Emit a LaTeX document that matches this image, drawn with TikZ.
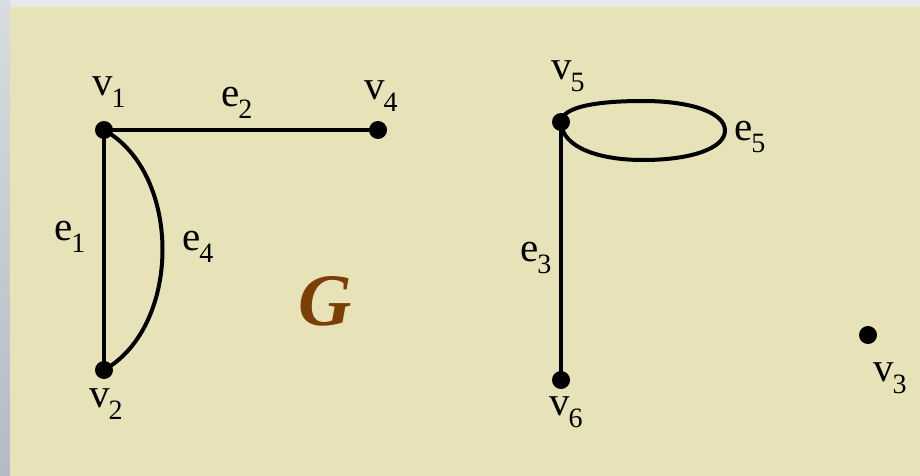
\documentclass[tikz,border=0pt]{standalone}
\usepackage{fontspec}
\setmainfont{Liberation Serif}
\definecolor{beige}{HTML}{E8E2B9}
\definecolor{grayL}{HTML}{D8DCE0}
\definecolor{grayD}{HTML}{B3BBC3}
\definecolor{grayT}{HTML}{E6E8EA}
\definecolor{gbrown}{HTML}{7A3E06}
\newcommand{\lbl}[2]{#1\kern-0.03em\raisebox{-0.3em}{\fontsize{28}{28}\selectfont #2}}
\tikzset{
  vtx/.style={circle,fill=black,inner sep=0pt,minimum size=18pt},
  edge/.style={line width=4pt,black},
  tlab/.style={font=\fontsize{41}{41}\selectfont,inner sep=0pt},
}
\begin{document}
\begin{tikzpicture}[x=1pt,y=-1pt]
\useasboundingbox (0,0) rectangle (920,476);
% background
\fill[grayT] (0,0) rectangle (920,476);
\shade[top color=grayL,bottom color=grayD] (0,0) rectangle (10,476);
\fill[beige] (10,7) rectangle (920,476);
% vertices
\node[vtx] (v1) at (104,130) {};
\node[vtx] (v4) at (378,130) {};
\node[vtx] (v2) at (104,370) {};
\node[vtx] (v5) at (561,122) {};
\node[vtx] (v6) at (561,380) {};
\node[vtx] (v3) at (868,335) {};
\coordinate (e5r) at (725,130.5);
% edges
\draw[edge] (v1.center) -- (v4.center);
\draw[edge] (v1.center) -- (v2.center);
\draw[edge] (v1.center) .. controls (182,173) and (182,326) .. (v2.center);
\draw[edge] (v5.center) -- (v6.center);
\draw[edge] (v5.center) .. controls (562,106) and (600,101) .. (643,101)
  .. controls (692,101) and (725,113) .. (e5r)
  .. controls (725,148) and (692,160) .. (643,160)
  .. controls (600,160) and (562,148) .. (v5.center);
% labels
\node[tlab] (lv1) at (109,92) {\lbl{v}{1}};
\node[tlab] (le2) at (237,103) {\lbl{e}{2}};
\node[tlab] (lv4) at (381,96) {\lbl{v}{4}};
\node[tlab] (le1) at (70,237) {\lbl{e}{1}};
\node[tlab] (le4) at (198,247) {\lbl{e}{4}};
\node[tlab] (lv2) at (106,404) {\lbl{v}{2}};
\node[tlab] (lv5) at (568,76) {\lbl{v}{5}};
\node[tlab] (le5) at (750,137) {\lbl{e}{5}};
\node[tlab] (le3) at (536,258) {\lbl{e}{3}};
\node[tlab] (lv6) at (566,412) {\lbl{v}{6}};
\node[tlab] (lv3) at (890,378) {\lbl{v}{3}};
\node[inner sep=0pt,text=gbrown,font=\fontsize{74}{74}\selectfont\bfseries\itshape] (G) at (325,301) {G};
\end{tikzpicture}
\end{document}
